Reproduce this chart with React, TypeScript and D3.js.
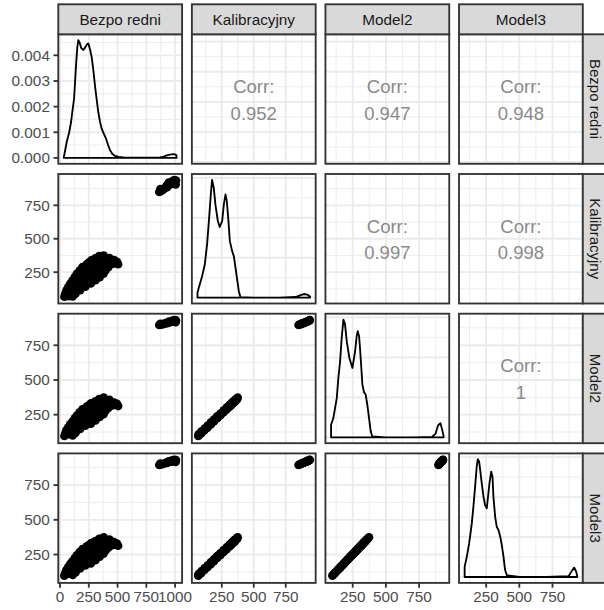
import React from 'react';
import * as d3 from 'd3';

const variables = ['Bezpo redni', 'Kalibracyjny', 'Model2', 'Model3'];

// upper triangle correlation labels
const corrLabels = [
  { row: 0, col: 1, label: '0.952' },
  { row: 0, col: 2, label: '0.947' },
  { row: 0, col: 3, label: '0.948' },
  { row: 1, col: 2, label: '0.997' },
  { row: 1, col: 3, label: '0.998' },
  { row: 2, col: 3, label: '1' },
];

// observations: [Bezpo redni, Kalibracyjny, Model2, Model3]
const mainCluster = [
  [38, 66, 97, 98], [75, 70, 110, 111], [110, 68, 101, 102],
  [45, 88, 115, 116], [90, 92, 130, 131], [135, 90, 119, 120],
  [55, 113, 137, 138], [100, 117, 151, 152], [140, 114, 141, 142], [175, 116, 148, 149],
  [70, 138, 157, 158], [120, 142, 172, 173], [170, 139, 162, 163], [220, 141, 170, 171],
  [88, 163, 180, 181], [135, 167, 195, 196], [180, 164, 183, 184], [225, 166, 193, 194], [268, 165, 185, 186],
  [108, 188, 201, 202], [160, 192, 216, 217], [210, 189, 206, 207], [260, 191, 214, 215], [308, 190, 208, 209],
  [128, 213, 224, 225], [178, 217, 239, 240], [228, 214, 227, 228], [278, 216, 237, 238], [320, 215, 229, 230], [345, 213, 234, 235],
  [146, 238, 244, 245], [195, 242, 259, 260], [245, 239, 249, 250], [295, 241, 257, 258], [340, 240, 250, 251], [378, 238, 254, 255],
  [170, 263, 267, 268], [220, 267, 282, 283], [270, 264, 270, 271], [320, 266, 280, 281], [360, 265, 273, 274], [395, 263, 277, 278],
  [195, 288, 288, 289], [245, 292, 303, 304], [295, 289, 293, 294], [345, 291, 301, 302], [390, 290, 294, 295], [420, 288, 298, 299],
  [230, 308, 306, 307], [275, 312, 321, 322], [320, 309, 309, 310], [365, 311, 319, 320], [410, 310, 311, 312], [455, 312, 316, 317], [505, 309, 312, 313],
  [250, 323, 318, 319], [300, 327, 333, 334], [350, 324, 323, 324], [400, 326, 331, 332], [450, 325, 324, 325], [495, 327, 328, 329],
  [270, 338, 332, 333], [320, 342, 347, 348], [370, 339, 335, 336], [420, 341, 345, 346], [470, 340, 338, 339],
  [305, 353, 344, 345], [350, 357, 359, 360], [395, 354, 349, 350], [430, 356, 357, 358],
  [340, 370, 362, 363], [380, 374, 373, 374],
];

const outlierCluster = [
  [862, 850, 896, 895], [880, 858, 899, 898], [895, 866, 902, 902], [872, 872, 904, 905],
  [910, 878, 906, 907], [930, 886, 909, 910], [925, 895, 912, 913], [950, 902, 915, 916],
  [965, 910, 918, 919], [985, 916, 921, 922], [1000, 925, 925, 926], [1008, 935, 929, 930],
  [992, 938, 931, 932], [975, 930, 927, 928], [945, 920, 920, 921], [1005, 905, 916, 917],
];

// kernel density curves: [x, density]
const bezpoDensity = [
  [34, 0.00005], [45, 0.0003], [58, 0.00062], [80, 0.001], [96, 0.0014], [110, 0.0019], [122, 0.0023],
  [130, 0.0029], [139, 0.0036], [150, 0.0043], [159, 0.00459], [170, 0.0045], [185, 0.00428], [203, 0.00421],
  [220, 0.00432], [235, 0.00443], [246, 0.00446], [260, 0.00425], [276, 0.00391], [290, 0.0034], [304, 0.00281],
  [318, 0.0023], [333, 0.00178], [348, 0.0014], [362, 0.00114], [380, 0.00095], [400, 0.00075], [418, 0.0005],
  [435, 0.0003], [455, 0.00015], [478, 0.00008], [510, 0.00004], [550, 0.00002], [650, 0.00001], [800, 0.00001],
  [870, 0.00002], [900, 0.00005], [928, 0.0001], [955, 0.00013], [985, 0.00015], [1000, 0.00014], [1012, 0.0001],
];

const kalibDensity = [
  [60, 0.00024], [70, 0.00049], [96, 0.00107], [117, 0.00166], [135, 0.00267], [153, 0.00417], [164, 0.00517],
  [174, 0.0059], [187, 0.00551], [200, 0.00467], [219, 0.00384], [234, 0.00354], [253, 0.00384], [266, 0.00467],
  [279, 0.00517], [289, 0.00484], [300, 0.00401], [313, 0.00283], [331, 0.00233], [344, 0.00208], [357, 0.0015],
  [370, 0.00091], [383, 0.00032], [396, 0.00002], [500, 0], [700, 0], [827, 0.00003], [866, 0.00012],
  [892, 0.00018], [918, 0.00015], [940, 0.00006],
];

const model2Density = [
  [87, 0.00063], [104, 0.00096], [130, 0.00196], [142, 0.00297], [155, 0.0038], [167, 0.00497], [180, 0.00589],
  [192, 0.00565], [205, 0.00481], [225, 0.00397], [248, 0.00347], [268, 0.0043], [280, 0.00506], [288, 0.00531],
  [298, 0.00506], [305, 0.00447], [315, 0.00347], [323, 0.00263], [335, 0.00227], [348, 0.00213], [360, 0.00163],
  [373, 0.00096], [386, 0.00029], [398, 0.00004], [500, 0], [700, 0], [848, 0.00002], [874, 0.00018],
  [893, 0.00059], [911, 0.00071], [923, 0.00041], [935, 0.00006],
];

const model3Density = [
  [88, 0.00051], [104, 0.00101], [122, 0.00168], [142, 0.00268], [154, 0.00352], [167, 0.00452], [179, 0.00552],
  [187, 0.00589], [197, 0.00578], [205, 0.00536], [217, 0.00469], [230, 0.00402], [242, 0.0036], [255, 0.00344],
  [267, 0.00419], [275, 0.00469], [288, 0.00527], [298, 0.00502], [305, 0.00402], [318, 0.00301], [330, 0.00251],
  [343, 0.00235], [356, 0.00202], [368, 0.0016], [381, 0.00101], [393, 0.00035], [406, 0.00009], [500, 0.00001],
  [700, 0], [871, 0.00004], [897, 0.00032], [914, 0.00047], [930, 0.00024], [936, 0.00005],
];

// tick breaks
const bezpoMajor = [0, 250, 500, 750, 1000];
const valueMajor = [250, 500, 750];
const valueMinor = [125, 375, 625, 875];
const bezpoDensMajor = [0, 0.001, 0.002, 0.003, 0.004];
const bezpoDensMinor = [0.0005, 0.0015, 0.0025, 0.0035, 0.0045];
const densMajor = [0, 0.002, 0.004, 0.006];
const densMinor = [0.001, 0.003, 0.005];

const font = '"Liberation Sans", Arial, Helvetica, sans-serif';
const panelLeft = 58.3;
const panelTop = 34.3;
const panelW = 123.8;
const panelH = 129.5;
const gapX = 9.77;
const gapY = 10.2;
const stripSize = 30;
const lw = 1.85;

export default function App() {
  const observations = [...mainCluster, ...outlierCluster];
  const densities = [bezpoDensity, kalibDensity, model2Density, model3Density];

  const domains = variables.map((_, v) => {
    const vals = observations.map(o => o[v]).concat(densities[v].map(d => d[0]));
    const [lo, hi] = d3.extent(vals) as [number, number];
    const pad = (hi - lo) * 0.05;
    return [lo - pad, hi + pad];
  });

  const densDomains = densities.map(dens => {
    const mx = d3.max(dens, d => d[1]) as number;
    return [-0.05 * mx, 1.05 * mx];
  });

  const colX = (j: number) => panelLeft + j * (panelW + gapX);
  const rowY = (i: number) => panelTop + i * (panelH + gapY);
  const n = variables.length;

  const panels: JSX.Element[] = [];
  for (let i = 0; i < n; i++) {
    for (let j = 0; j < n; j++) {
      const x0 = colX(j);
      const y0 = rowY(i);
      const x = d3.scaleLinear().domain(domains[j]).range([x0, x0 + panelW]);
      const isDiag = i === j;
      const y = d3.scaleLinear()
        .domain(isDiag ? densDomains[i] : domains[i])
        .range([y0 + panelH, y0]);

      const xMajor = j === 0 ? bezpoMajor : valueMajor;
      const yMajor = isDiag ? (i === 0 ? bezpoDensMajor : densMajor) : (i === 0 ? bezpoMajor : valueMajor);
      const yMinor = isDiag ? (i === 0 ? bezpoDensMinor : densMinor) : valueMinor;
      const inX = (v: number) => v >= x.domain()[0] && v <= x.domain()[1];
      const inY = (v: number) => v >= y.domain()[0] && v <= y.domain()[1];

      let content: React.ReactNode = null;
      if (isDiag) {
        const dens = densities[i];
        const line = d3.line<number[]>().x(d => x(d[0])).y(d => y(d[1]));
        const closed = [...dens, [dens[dens.length - 1][0], 0], [dens[0][0], 0]];
        content = (
          <path d={(line(closed) || '') + 'Z'} fill="none" stroke="#000" strokeWidth={lw} strokeLinejoin="round" />
        );
      } else if (i > j) {
        content = observations.map((o, k) => (
          <circle key={k} cx={x(o[j])} cy={y(o[i])} r={4.3} fill="#000" />
        ));
      } else {
        const c = corrLabels.find(d => d.row === i && d.col === j);
        const cx = x0 + panelW / 2;
        const cy = y0 + panelH / 2;
        content = (
          <g fontFamily={font} fontSize={18.5} fill="#8A8A8A" textAnchor="middle">
            <text x={cx} y={cy - 12.5} dominantBaseline="central">Corr:</text>
            <text x={cx} y={cy + 14} dominantBaseline="central">{c ? c.label : ''}</text>
          </g>
        );
      }

      panels.push(
        <g key={`p-${i}-${j}`}>
          <clipPath id={`clip-${i}-${j}`}>
            <rect x={x0} y={y0} width={panelW} height={panelH} />
          </clipPath>
          <rect x={x0} y={y0} width={panelW} height={panelH} fill="#fff" />
          <g clipPath={`url(#clip-${i}-${j})`}>
            {valueMinor.filter(inX).map(t => (
              <line key={`vx${t}`} x1={x(t)} x2={x(t)} y1={y0} y2={y0 + panelH} stroke="#EBEBEB" strokeWidth={lw / 2} />
            ))}
            {yMinor.filter(inY).map(t => (
              <line key={`hy${t}`} x1={x0} x2={x0 + panelW} y1={y(t)} y2={y(t)} stroke="#EBEBEB" strokeWidth={lw / 2} />
            ))}
            {xMajor.filter(inX).map(t => (
              <line key={`VX${t}`} x1={x(t)} x2={x(t)} y1={y0} y2={y0 + panelH} stroke="#EBEBEB" strokeWidth={lw} />
            ))}
            {yMajor.filter(inY).map(t => (
              <line key={`HY${t}`} x1={x0} x2={x0 + panelW} y1={y(t)} y2={y(t)} stroke="#EBEBEB" strokeWidth={lw} />
            ))}
            {content}
          </g>
          <rect x={x0} y={y0} width={panelW} height={panelH} fill="none" stroke="#333333" strokeWidth={lw} />

          {/* left axis */}
          {j === 0 && yMajor.filter(inY).map(t => (
            <g key={`ly${t}`}>
              <line x1={x0 - 4.8} x2={x0} y1={y(t)} y2={y(t)} stroke="#333333" strokeWidth={lw} />
              <text x={x0 - 8.4} y={y(t)} dy="0.35em" textAnchor="end" fontFamily={font} fontSize={15.3} fill="#4D4D4D">
                {i === 0 ? d3.format('.3f')(t) : t}
              </text>
            </g>
          ))}

          {/* bottom axis */}
          {i === n - 1 && xMajor.filter(inX).map(t => (
            <g key={`bx${t}`}>
              <line x1={x(t)} x2={x(t)} y1={y0 + panelH} y2={y0 + panelH + 4.8} stroke="#333333" strokeWidth={lw} />
              <text x={x(t)} y={y0 + panelH + 19.5} textAnchor="middle" fontFamily={font} fontSize={15.3} fill="#4D4D4D">
                {t}
              </text>
            </g>
          ))}
        </g>
      );
    }
  }

  return (
    <div style={{ position: 'absolute', left: 0, top: 0, width: 604, height: 610, background: '#fff' }}>
      <svg width={604} height={610} viewBox="0 0 604 610">
        <rect x={0} y={0} width={604} height={610} fill="#fff" />
        {panels}
        {/* top strips */}
        {variables.map((v, j) => (
          <g key={`ts-${v}`}>
            <rect x={colX(j)} y={panelTop - stripSize} width={panelW} height={stripSize} fill="#D9D9D9" stroke="#333333" strokeWidth={lw} />
            <text x={colX(j) + panelW / 2} y={panelTop - stripSize / 2} dominantBaseline="central" textAnchor="middle"
              fontFamily={font} fontSize={15.3} fill="#1A1A1A">{v}</text>
          </g>
        ))}
        {/* right strips (cut by the figure edge, as in the original) */}
        {variables.map((v, i) => {
          const sx = colX(n - 1) + panelW;
          const cy = rowY(i) + panelH / 2;
          return (
            <g key={`rs-${v}`}>
              <rect x={sx} y={rowY(i)} width={stripSize} height={panelH} fill="#D9D9D9" stroke="#333333" strokeWidth={lw} />
              <text x={0} y={0} transform={`translate(${sx + 12.6},${cy}) rotate(90)`} dominantBaseline="central"
                textAnchor="middle" fontFamily={font} fontSize={15} fill="#1A1A1A">{v}</text>
            </g>
          );
        })}
      </svg>
    </div>
  );
}
